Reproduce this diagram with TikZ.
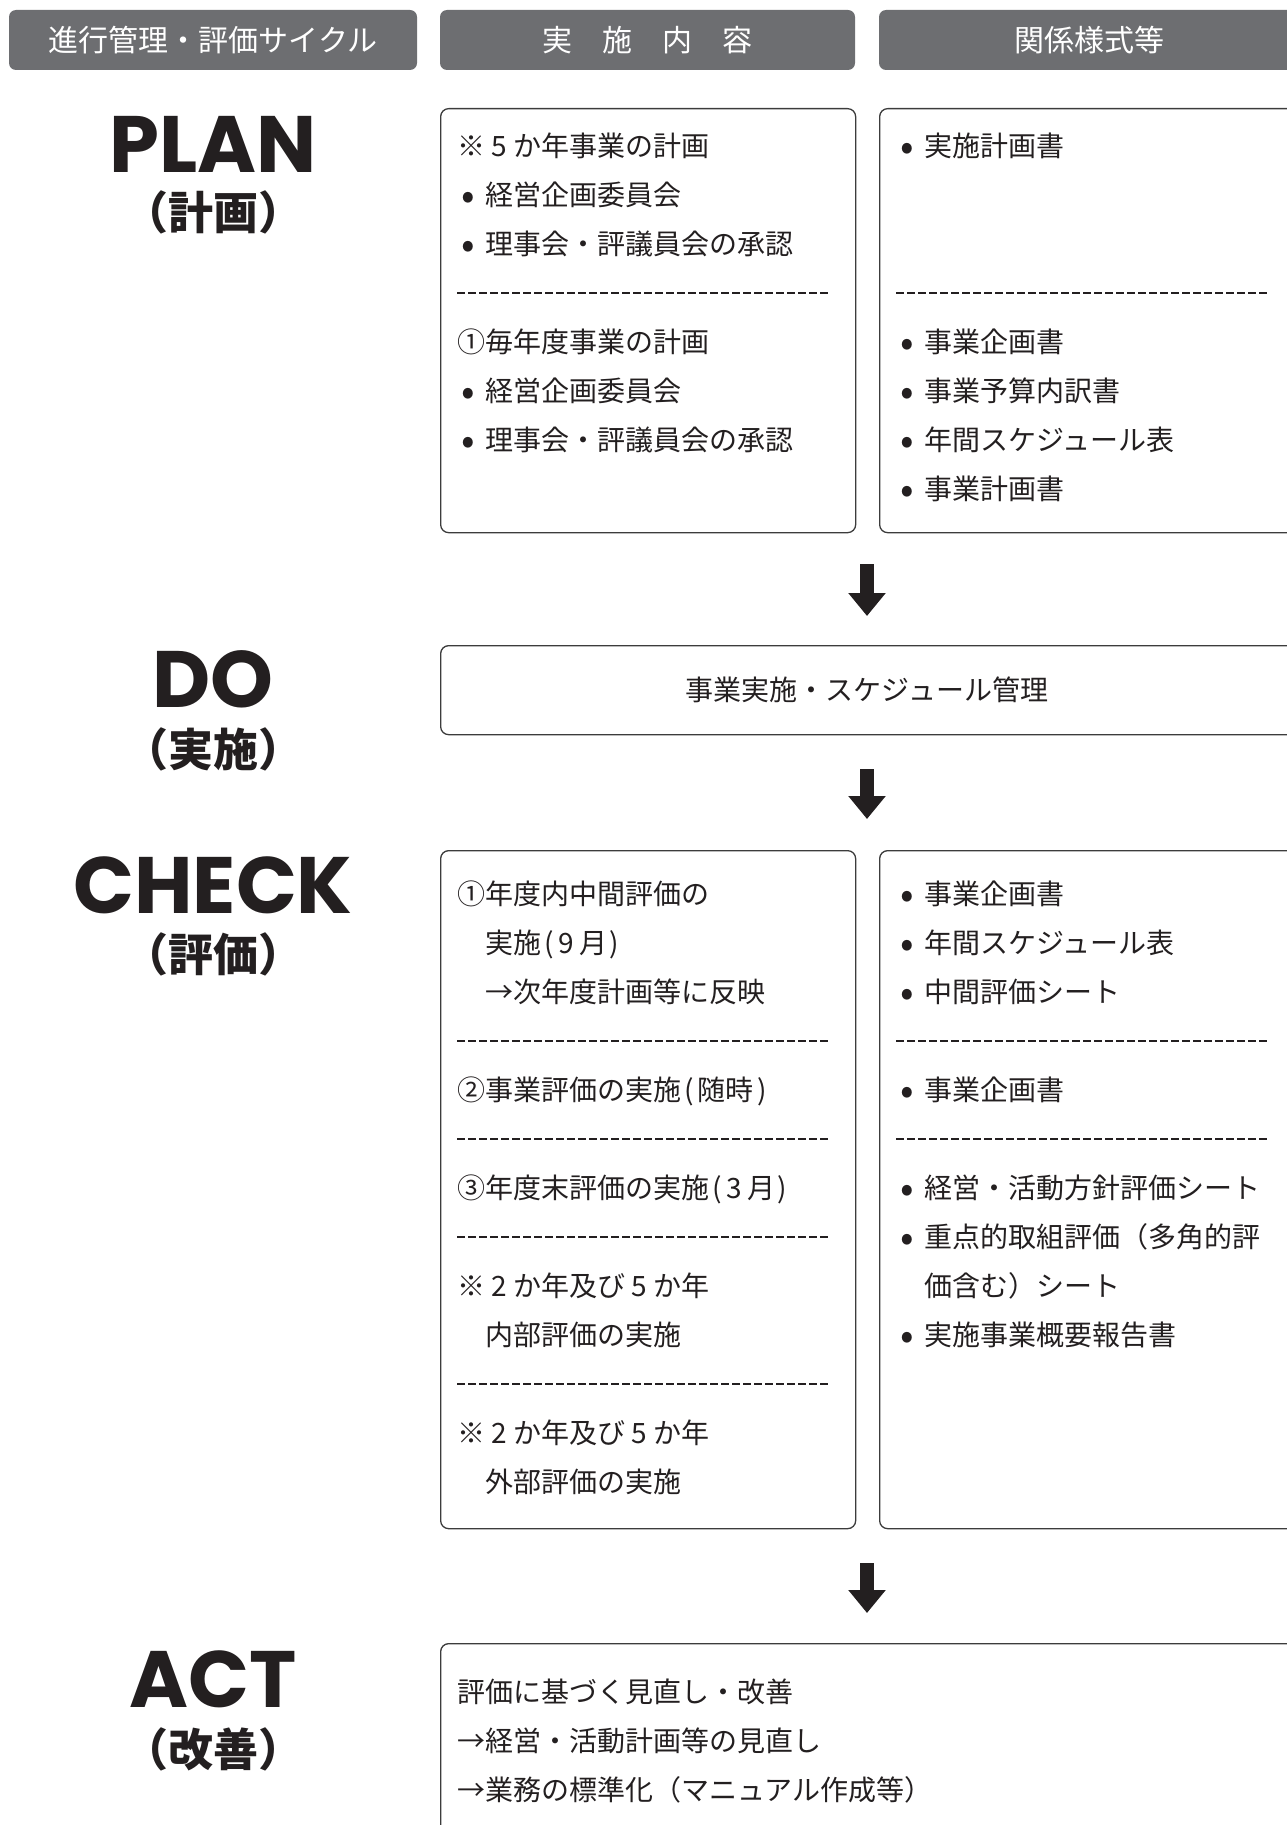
\documentclass[tikz,border=0pt]{standalone}
\usepackage{fontspec}
\setmainfont{Noto Sans CJK JP}
\newfontfamily\jp{Noto Sans CJK JP}
\newfontfamily\pop{Poppins}
\usetikzlibrary{arrows.meta}
\definecolor{hdrgray}{HTML}{6D6E71}
\definecolor{ink}{HTML}{231F20}
\definecolor{boxline}{HTML}{3C3C3C}
\newcommand\bul{\makebox[28pt][c]{\hspace*{-6pt}\raisebox{-3.5pt}{\fontsize{40}{40}\selectfont •}}}
\newcommand\ind{\hspace*{28pt}}
\begin{document}
\begin{tikzpicture}[x=1pt,y=-1pt,
 hdr/.style={fill=hdrgray, rounded corners=7pt, minimum height=60pt, inner sep=0pt, text=white,
   font=\jp\fontsize{30}{36}\selectfont, text height=22.8pt, text depth=0pt},
 box/.style={draw=boxline, line width=1.3pt, rounded corners=8pt, anchor=north west, inner sep=0pt},
 txt/.style={anchor=west, inner sep=0pt, text=ink, font=\jp\fontsize{28}{34}\selectfont,
   text height=21.3pt, text depth=0pt},
 seprule/.style={draw=ink, line width=1.6pt, dash pattern=on 7.5pt off 3.5pt},
 biglab/.style={anchor=base, inner sep=0pt, text=ink, font=\pop\bfseries\fontsize{80}{90}\selectfont,
   text height=56pt, text depth=0pt},
 jplab/.style={inner sep=0pt, text=ink, font=\jp\bfseries\fontsize{45}{50}\selectfont,
   text height=34pt, text depth=0pt},
 fatarrow/.style={draw=ink, line width=14pt, -{Triangle[width=36pt,length=23pt]}},
]
\useasboundingbox (0,0) rectangle (1287,1825);
\clip (0,0) rectangle (1287,1825);

% header bars
\node[hdr, minimum width=408pt] (h1) at (213,40) {進行管理・評価サイクル};
\node[hdr, minimum width=415pt] (h2) at (647.5,40) {実　施　内　容};
\node[hdr, minimum width=421pt] (h3) at (1089.5,40) {関係様式等};

% left labels
\node[biglab] (lplan) at (213,172) {PLAN};
\node[jplab] (jplan) at (213,212) {（計画）};
\node[biglab] (ldo) at (213,707) {DO};
\node[jplab] (jdo) at (213,749) {（実施）};
\node[biglab] (lcheck) at (213,913) {CHECK};
\node[jplab] (jcheck) at (213,954) {（評価）};
\node[biglab] (lact) at (213,1707) {ACT};
\node[jplab] (jact) at (213,1749) {（改善）};

% boxes
\node[box, minimum width=415pt, minimum height=424pt] (planL) at (440,108) {};
\node[box, minimum width=460pt, minimum height=424pt] (planR) at (879,108) {};
\node[box, minimum width=900pt, minimum height=89pt] (doB) at (440,645) {};
\node[box, minimum width=415pt, minimum height=678pt] (checkL) at (440,850) {};
\node[box, minimum width=460pt, minimum height=678pt] (checkR) at (879,850) {};
\node[box, minimum width=900pt, minimum height=300pt] (actB) at (440,1643) {};

% PLAN left
\node[txt] (pl1) at (457,146) {※ 5 か年事業の計画};
\node[txt] (pl2) at (457,195) {\bul 経営企画委員会};
\node[txt] (pl3) at (457,244) {\bul 理事会・評議員会の承認};
\draw[seprule] (457,293) -- (830,293);
\node[txt] (pl4) at (457,342) {①毎年度事業の計画};
\node[txt] (pl5) at (457,391) {\bul 経営企画委員会};
\node[txt] (pl6) at (457,440) {\bul 理事会・評議員会の承認};

% PLAN right
\node[txt] (pr1) at (896,146) {\bul 実施計画書};
\draw[seprule] (896,293) -- (1269,293);
\node[txt] (pr2) at (896,342) {\bul 事業企画書};
\node[txt] (pr3) at (896,391) {\bul 事業予算内訳書};
\node[txt] (pr4) at (896,440) {\bul 年間スケジュール表};
\node[txt] (pr5) at (896,489) {\bul 事業計画書};

% DO
\node[txt, anchor=center] (dot) at (867,690) {事業実施・スケジュール管理};

% CHECK left
\node[txt] (cl1) at (457,894) {①年度内中間評価の};
\node[txt] (cl2) at (457,943) {\ind 実施\hspace{3pt}(\hspace{5pt}9\hspace{5pt}月\hspace{2pt})};
\node[txt] (cl3) at (457,992) {\ind →次年度計画等に反映};
\draw[seprule] (457,1041) -- (830,1041);
\node[txt] (cl4) at (457,1090) {②事業評価の実施\hspace{3pt}(\hspace{4pt}随時\hspace{4pt})};
\draw[seprule] (457,1139) -- (830,1139);
\node[txt] (cl5) at (457,1188) {③年度末評価の実施\hspace{3pt}(\hspace{5pt}3\hspace{5pt}月\hspace{2pt})};
\draw[seprule] (457,1237) -- (830,1237);
\node[txt] (cl6) at (457,1286) {※ 2 か年及び 5 か年};
\node[txt] (cl7) at (457,1335) {\ind 内部評価の実施};
\draw[seprule] (457,1384) -- (830,1384);
\node[txt] (cl8) at (457,1433) {※ 2 か年及び 5 か年};
\node[txt] (cl9) at (457,1482) {\ind 外部評価の実施};

% CHECK right
\node[txt] (cr1) at (896,894) {\bul 事業企画書};
\node[txt] (cr2) at (896,943) {\bul 年間スケジュール表};
\node[txt] (cr3) at (896,992) {\bul 中間評価シート};
\draw[seprule] (896,1041) -- (1269,1041);
\node[txt] (cr4) at (896,1090) {\bul 事業企画書};
\draw[seprule] (896,1139) -- (1269,1139);
\node[txt] (cr5) at (896,1188) {\bul 経営・活動方針評価シート};
\node[txt] (cr6) at (896,1237) {\bul 重点的取組評価（多角的評};
\node[txt] (cr7) at (896,1286) {\ind 価含む）シート};
\node[txt] (cr8) at (896,1335) {\bul 実施事業概要報告書};

% ACT
\node[txt] (a1) at (457,1692) {評価に基づく見直し・改善};
\node[txt] (a2) at (457,1741) {→経営・活動計画等の見直し};
\node[txt] (a3) at (457,1790) {→業務の標準化（マニュアル作成等）};

% arrows
\coordinate (ar1s) at (867,564);
\coordinate (ar1e) at (867,616);
\coordinate (ar2s) at (867,769);
\coordinate (ar2e) at (867,819);
\coordinate (ar3s) at (867,1563);
\coordinate (ar3e) at (867,1613);
\draw[fatarrow] (ar1s) -- (ar1e);
\draw[fatarrow] (ar2s) -- (ar2e);
\draw[fatarrow] (ar3s) -- (ar3e);
\end{tikzpicture}
\end{document}
